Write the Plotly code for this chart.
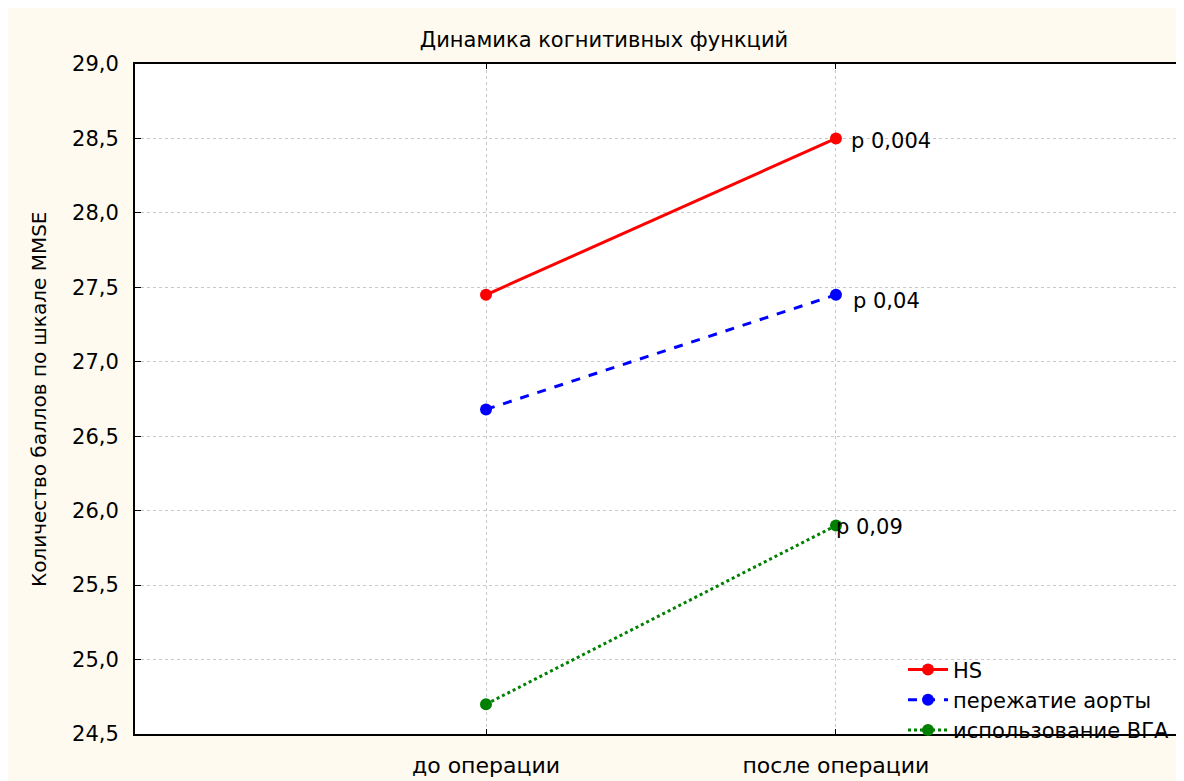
import plotly.graph_objects as go

# ---- data ----
categories = ["до операции", "после операции"]
series_names = ["HS", "пережатие аорты", "использование ВГА"]
hs_values = [27.45, 28.50]
aorta_values = [26.68, 27.45]
vga_values = [24.70, 25.90]
p_labels = ["p 0,004", "p 0,04", "p 0,09"]
y_ticks = [24.5, 25.0, 25.5, 26.0, 26.5, 27.0, 27.5, 28.0, 28.5, 29.0]

title_text = "Динамика когнитивных функций"
y_title = "Количество баллов по шкале MMSE"

# ---- styling ----
W, H = 1184, 781
ML, MR, MT, MB = 127, 11, 56, 53
PW, PH = W - ML - MR, H - MT - MB
CREAM = "#fefaf0"
FONT = "DejaVu Sans, Verdana, sans-serif"

def px_x(p):
    return (p - ML) / PW

def px_y(p):
    return (H - MB - p) / PH

colors = ["#ff0000", "#0000ff", "#008000"]
dashes = ["solid", "dash", "dot"]
all_values = [hs_values, aorta_values, vga_values]
label_shift = [(13, -3), (15, -6), (-2, -1)]

fig = go.Figure()
for name, vals, col, dsh in zip(series_names, all_values, colors, dashes):
    fig.add_trace(go.Scatter(
        x=categories, y=vals, name=name, mode="lines+markers",
        line=dict(color=col, width=3, dash=dsh),
        marker=dict(color=col, size=12),
    ))

for vals, lab, (dx, dy) in zip(all_values, p_labels, label_shift):
    fig.add_annotation(
        x=categories[1], y=vals[1], text=lab, showarrow=False,
        xanchor="left", yanchor="middle", xshift=dx, yshift=dy,
        font=dict(family=FONT, size=21, color="#000"),
    )

fig.add_annotation(
    xref="paper", yref="paper", x=px_x(31), y=0.5, text=y_title,
    textangle=-90, showarrow=False, xanchor="center", yanchor="middle",
    font=dict(family=FONT, size=20, color="#000"),
)

fig.update_layout(
    width=W, height=H,
    margin=dict(l=ML, r=MR, t=MT, b=MB, pad=0),
    paper_bgcolor=CREAM, plot_bgcolor="white",
    separators=", ",
    font=dict(family=FONT, size=21, color="#000"),
    title=dict(text=title_text, x=596 / W, xanchor="center", xref="container",
               y=1 - 32 / H, yanchor="middle", yref="container",
               font=dict(family=FONT, size=21, color="#000")),
    showlegend=True,
    legend=dict(x=px_x(895), y=px_y(643), xanchor="left", yanchor="top",
                bgcolor="rgba(0,0,0,0)", borderwidth=0,
                font=dict(family=FONT, size=21, color="#000"),
                tracegroupgap=0, itemwidth=40),
)

fig.update_xaxes(
    type="category", categoryorder="array", categoryarray=categories,
    range=[-1.003, 1.986],
    showline=True, linewidth=2, linecolor="black", mirror="ticks",
    ticks="inside", ticklen=5, tickcolor="black", tickwidth=1,
    showgrid=True, gridcolor="#c8c8c8", griddash="dot", gridwidth=1,
    tickfont=dict(family=FONT, size=22), ticklabelstandoff=11,
    zeroline=False,
)
fig.update_yaxes(
    range=[24.5, 29.0], tickvals=y_ticks, tickformat=".1f",
    showline=True, linewidth=2, linecolor="black", mirror=False,
    ticks="inside", ticklen=6, tickcolor="black", tickwidth=1,
    showgrid=True, gridcolor="#c8c8c8", griddash="dot", gridwidth=1,
    tickfont=dict(family=FONT, size=21), ticklabelstandoff=10,
    zeroline=False,
)

fig.write_html("out.html")
